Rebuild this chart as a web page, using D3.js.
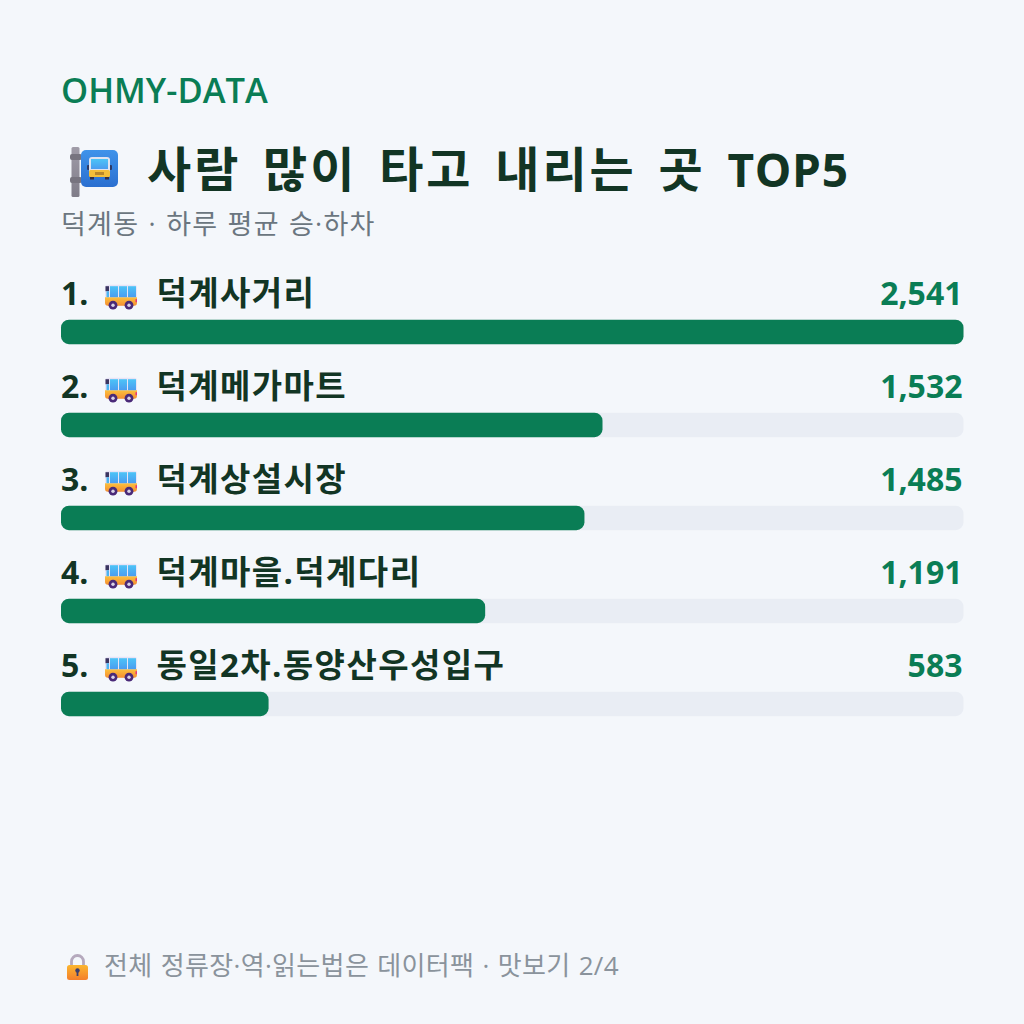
<!DOCTYPE html>
<html><head><meta charset="utf-8"><script src="https://cdn.jsdelivr.net/npm/d3@7/dist/d3.min.js"></script>
<style>html,body{margin:0;background:#f4f7fb}svg{display:block}text{font-family:"Open Sans","Noto Sans CJK KR",sans-serif}</style></head>
<body><svg id="c" width="1024" height="1024"></svg>
<script>
const stops=["덕계사거리","덕계메가마트","덕계상설시장","덕계마을.덕계다리","동일2차.동양산우성입구"];
const riders=[2541,1532,1485,1191,583];
const titleKorean="사람 많이 타고 내리는 곳 ";
const titleLatin="TOP5";
const subtitleText="덕계동 · 하루 평균 승·하차";
const brandText="OHMY-DATA";
const footerText="전체 정류장·역·읽는법은 데이터팩 · 맛보기 2/4";
const svg=d3.select("#c");
// bars show each stop's share of the busiest stop, in whole percent
const share=v=>Math.round(100*v/d3.max(riders));
const x=d3.scaleLinear().domain([0,100]).range([0,902.5]);
const y=d3.scaleBand().domain(d3.range(stops.length)).range([319.7,784.7]);
const green="#0a7d55",dark="#123524";
const defs=svg.append("defs");
function grad(id,a,b){const g=defs.append("linearGradient").attr("id",id).attr("x1",0).attr("y1",0).attr("x2",0).attr("y2",1);
  g.append("stop").attr("offset",0).attr("stop-color",a);g.append("stop").attr("offset",1).attr("stop-color",b);}
grad("gBody","#fcc13d","#f58f32");grad("gSign","#3f93ea","#2a6fd0");grad("gGlass","#4cc4f7","#4a9cf0");grad("gLock","#fbb62f","#f47f2c");grad("gPost","#a09ca8","#7f7c88");
svg.append("rect").attr("width",1024).attr("height",1024).attr("fill","#f4f7fb");
svg.append("text").attr("x",61).attr("y",103).attr("font-size",34.5).attr("font-weight",600).attr("fill",green).text(brandText);
// bus-stop sign
const sign=svg.append("g");
sign.append("rect").attr("x",71.5).attr("y",147).attr("width",8).attr("height",50).attr("rx",1.5).attr("fill","url(#gPost)");
sign.append("rect").attr("x",70).attr("y",154).attr("width",12).attr("height",6).attr("rx",2).attr("fill","#77747f");
sign.append("rect").attr("x",70).attr("y",177).attr("width",12).attr("height",6).attr("rx",2).attr("fill","#77747f");
sign.append("rect").attr("x",81).attr("y",150).attr("width",37).attr("height",37).attr("rx",5).attr("fill","url(#gSign)");
sign.append("rect").attr("x",87).attr("y",165).attr("width",25).attr("height",5).attr("rx",1).attr("fill","#2d3a66");
sign.append("rect").attr("x",89).attr("y",157).attr("width",21).attr("height",20).attr("rx",3).attr("fill","#dfe3f0");
sign.append("rect").attr("x",91).attr("y",159).attr("width",17).attr("height",10).attr("fill","url(#gGlass)");
sign.append("rect").attr("x",89).attr("y",170).attr("width",21).attr("height",7).attr("rx",1.5).attr("fill","#f4bf3a");
sign.append("rect").attr("x",95).attr("y",172).attr("width",9).attr("height",3).attr("fill","#b9872a");
sign.append("rect").attr("x",90).attr("y",177).attr("width",4).attr("height",2.5).attr("fill","#33304a");
sign.append("rect").attr("x",105).attr("y",177).attr("width",4).attr("height",2.5).attr("fill","#33304a");
svg.append("text").attr("x",147).attr("y",187).attr("fill",dark).attr("font-weight",700)
  .call(t=>{t.append("tspan").attr("font-size",48).attr("letter-spacing",3).attr("word-spacing",6.3).text(titleKorean);t.append("tspan").attr("font-size",46).attr("letter-spacing",0.7).text(titleLatin);});
svg.append("text").attr("x",61).attr("y",234).attr("font-size",27).attr("fill","#6b7680").attr("letter-spacing",1.25).attr("word-spacing",1).text(subtitleText);
const rows=svg.selectAll("g.row").data(stops).join("g").attr("class","row").attr("transform",(d,i)=>`translate(61,${y(i)})`);
rows.append("rect").attr("width",902.5).attr("height",24.5).attr("rx",8).attr("fill","#e9edf4");
rows.append("rect").attr("width",(d,i)=>x(share(riders[i]))).attr("height",24.5).attr("rx",8).attr("fill",green);
rows.append("text").attr("y",-15).attr("font-size",32).attr("font-weight",700).attr("fill",dark).text((d,i)=>`${i+1}.`);
rows.append("text").attr("x",95.5).attr("y",-15).attr("font-size",33).attr("font-weight",700).attr("fill",dark).attr("letter-spacing",1.4).text(d=>d);
rows.append("text").attr("x",901.5).attr("y",-15).attr("text-anchor","end").attr("font-size",32).attr("font-weight",700).attr("fill",green).text((d,i)=>d3.format(",")(riders[i]));
// small bus icon
const bus=rows.append("g").attr("transform","translate(44,-35)");
bus.append("rect").attr("width",32).attr("height",21).attr("rx",3).attr("fill","#e8e4f6");
bus.append("path").attr("d","M0 12.5H32V18a3 3 0 0 1-3 3H3a3 3 0 0 1-3-3Z").attr("fill","url(#gBody)");
bus.append("rect").attr("x",0.5).attr("y",1.5).attr("width",3.5).attr("height",5).attr("fill","#3a3560");
bus.append("rect").attr("x",1.5).attr("y",6.5).attr("width",2.5).attr("height",6).attr("fill","#4cb4f0");
[5,14,23].forEach(wx=>bus.append("rect").attr("x",wx).attr("y",1.5).attr("width",8).attr("height",11).attr("fill","url(#gGlass)"));
bus.append("rect").attr("x",30.5).attr("y",14.5).attr("width",1.5).attr("height",3).attr("fill","#e8327a");
[8,24].forEach(cx=>{bus.append("circle").attr("cx",cx).attr("cy",20.5).attr("r",4.4).attr("fill","#4a2a78");
  bus.append("circle").attr("cx",cx).attr("cy",20.5).attr("r",1.7).attr("fill","#d9d3e6");});
// lock icon
const lock=svg.append("g").attr("transform","translate(67,954)");
lock.append("path").attr("d","M4.5 12V7.5a6 6 0 0 1 12 0V12").attr("fill","none").attr("stroke","#b5a9bd").attr("stroke-width",2.8);
lock.append("rect").attr("y",11).attr("width",21).attr("height",15).attr("rx",2.5).attr("fill","url(#gLock)");
lock.append("circle").attr("cx",10.5).attr("cy",16.5).attr("r",2.2).attr("fill","#3a3f70");
lock.append("rect").attr("x",9.6).attr("y",16.5).attr("width",1.8).attr("height",5.5).attr("fill","#3a3f70");
svg.append("text").attr("x",104).attr("y",975).attr("font-size",26).attr("fill","#8a939c").attr("letter-spacing",0.35).attr("word-spacing",1).text(footerText);
</script></body></html>
